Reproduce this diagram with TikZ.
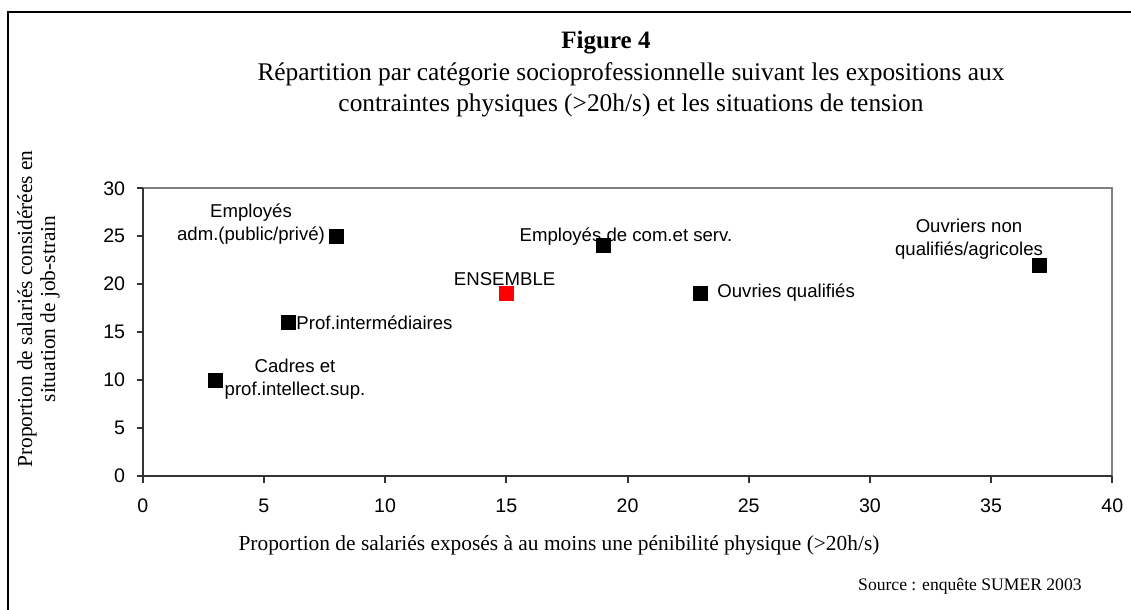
\documentclass[tikz,border=0pt]{standalone}
\usepackage{fontspec}
\setmainfont{Liberation Serif}
\newfontfamily\arialf{Liberation Sans}
\begin{document}
\begin{tikzpicture}[x=0.5pt,y=-0.5pt,
  mk/.style={draw=none,fill=black,minimum size=7.5pt,inner sep=0pt,rectangle},
  mkred/.style={mk,fill=red},
  lbl/.style={font=\arialf\fontsize{9.3}{11.5}\selectfont,inner sep=0pt,align=center},
  tick/.style={font=\arialf\fontsize{9.8}{11}\selectfont,inner sep=0pt},
  serif/.style={inner sep=0pt,align=center},
  axisline/.style={draw=black!80,line width=1pt},
  frameline/.style={draw=black!50,line width=1pt}]
\useasboundingbox (0,0) rectangle (1131,610);
% outer border
\coordinate (bl) at (8,610);
\coordinate (tl) at (8,12);
\coordinate (tr) at (1131,12);
\draw[line width=0.6pt] (bl) -- (tl) -- (tr);
% titles
\node[serif,font=\bfseries\fontsize{12.5}{14}\selectfont] (fig) at (606,43) {Figure 4};
\node[serif,font=\fontsize{12.7}{15.5}\selectfont] (title) at (631,90)
  {Répartition par catégorie socioprofessionnelle suivant les expositions aux\\contraintes physiques (>20h/s) et les situations de tension};
% plot area
\coordinate (O) at (142.7,476);
\coordinate (TL) at (142.7,188.3);
\coordinate (TR) at (1112.3,188.3);
\coordinate (BR) at (1112.3,476);
\draw[frameline] (TL) -- (TR) -- (BR);
\draw[axisline] (TL) -- (O) -- (BR);
\foreach \v in {0,5,...,30}{
  \draw[axisline] (136.5,476-9.59*\v) -- (142.7,476-9.59*\v);
  \node[tick,anchor=east] (yt\v) at (125.5,476-9.59*\v) {\v};
}
\foreach \v in {0,5,...,40}{
  \draw[axisline] (142.7+24.24*\v,476) -- (142.7+24.24*\v,482.5);
  \node[tick] (xt\v) at (142.7+24.24*\v,506) {\v};
}
% axis titles
\node[serif,font=\fontsize{10.7}{11.5}\selectfont,rotate=90] (ytitle) at (38.5,309)
  {Proportion de salariés considérées en\\situation de job-strain};
\node[serif,font=\fontsize{10.7}{13}\selectfont] (xtitle) at (559,545)
  {Proportion de salariés exposés à au moins une pénibilité physique (>20h/s)};
\node[serif,font=\fontsize{8.8}{11}\selectfont,anchor=east] (src) at (1082,586)
  {Source : enquête SUMER 2003};
% points
\node[mk] (cadres) at (215.4,380.1) {};
\node[mk] (adm) at (336.6,236.3) {};
\node[mk] (inter) at (288.1,322.6) {};
\node[mkred] (ens) at (506.3,293.8) {};
\node[mk] (com) at (603.3,245.8) {};
\node[mk] (qual) at (700.2,293.8) {};
\node[mk] (nonq) at (1039.6,265.0) {};
% labels
\node[lbl] (lcadres) at (295,379) {Cadres et\\prof.intellect.sup.};
\node[lbl] (ladm) at (251,224) {Employés\\adm.(public/privé)};
\node[lbl,anchor=west] (linter) at (296,323) {Prof.intermédiaires};
\node[lbl] (lens) at (504.6,279) {ENSEMBLE};
\node[lbl] (lcom) at (626,237) {Employés de com.et serv.};
\node[lbl,anchor=west] (lqual) at (717,293) {Ouvries qualifiés};
\node[lbl] (lnonq) at (969,239) {Ouvriers non\\qualifiés/agricoles};
\end{tikzpicture}
\end{document}
